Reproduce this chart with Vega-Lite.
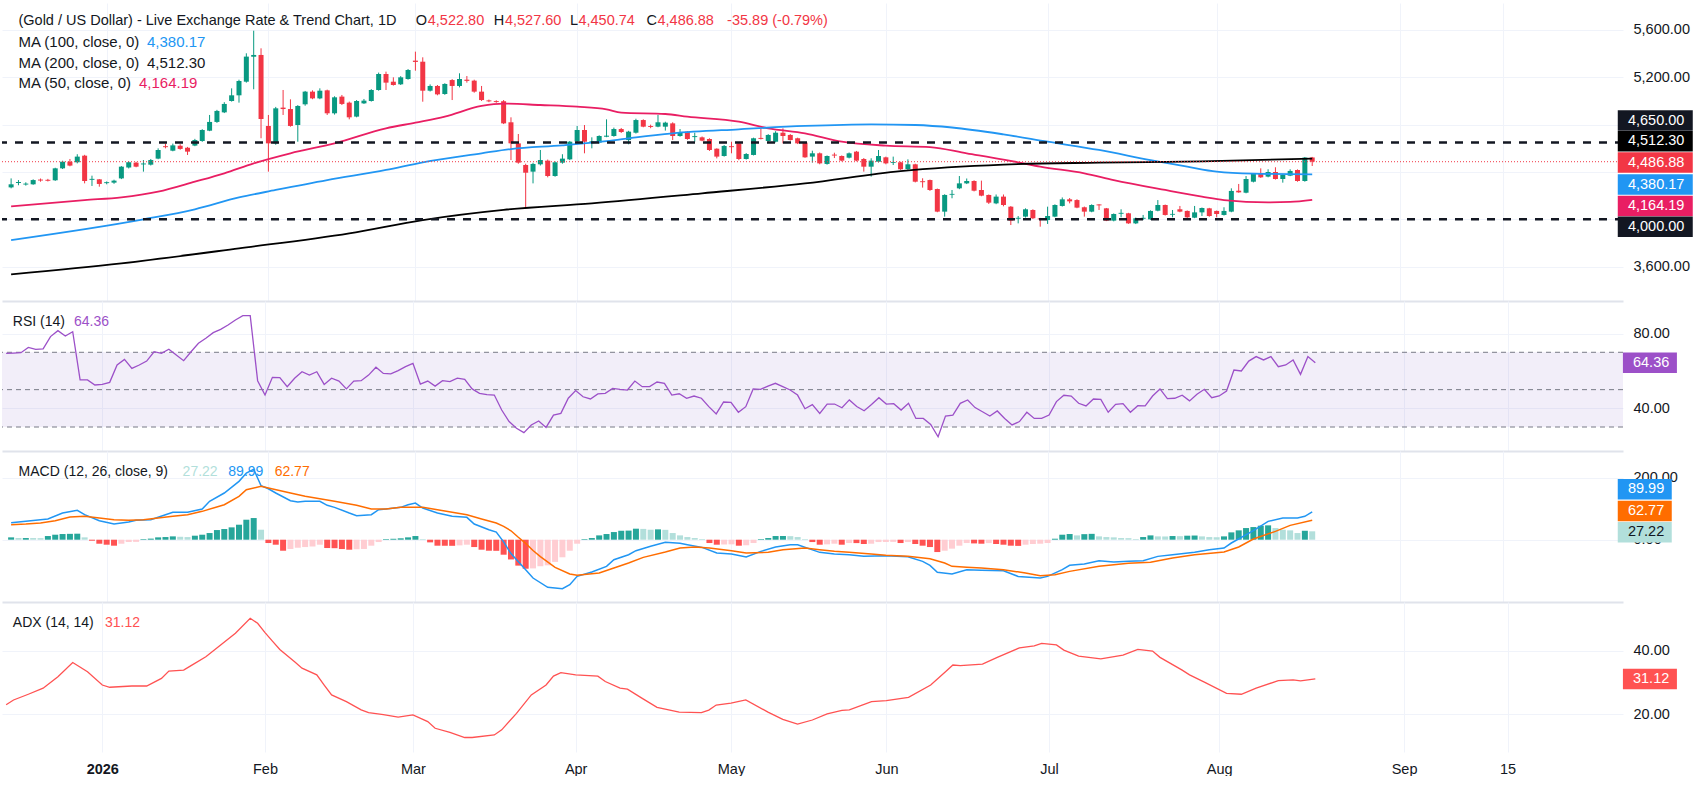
{
  "$schema": "https://vega.github.io/schema/vega-lite/v6.json",
  "padding": {"top": 3, "left": 0, "right": 0, "bottom": 0},
  "background": "white",
  "spacing": 0,
  "bounds": "flush",
  "config": {
    "font": "Liberation Sans",
    "view": {"stroke": null},
    "axis": {"gridColor": "#F0F3FA", "gridWidth": 1, "labelColor": "#131722", "labelFontSize": 14.5, "ticks": false, "domain": false},
    "text": {"fontSize": 14.5, "align": "left", "baseline": "middle", "color": "#131722"}
  },
  "datasets": {
    "info": [{"title": "(Gold / US Dollar) - Live Exchange Rate & Trend Chart, 1D", "o": "4,522.80", "h": "4,527.60", "l": "4,450.74", "c": "4,486.88", "chg": "-35.89 (-0.79%)", "ma100": "4,380.17", "ma200": "4,512.30", "ma50": "4,164.19", "rsi": "64.36", "hist": "27.22", "macd": "89.99", "signal": "62.77", "adx": "31.12"}],
    "candles": [
      {"i":-13,"o":4270,"h":4346,"l":4262,"c":4296},{"i":-12,"o":4307,"h":4332,"l":4288,"c":4315},{"i":-11,"o":4294,"h":4313,"l":4285,"c":4302},{"i":-10,"o":4296,"h":4338,"l":4292,"c":4332},
      {"i":-9,"o":4336,"h":4345,"l":4318,"c":4328},{"i":-8,"o":4334,"h":4342,"l":4320,"c":4326},{"i":-7,"o":4330,"h":4436,"l":4325,"c":4431},{"i":-6,"o":4431,"h":4495,"l":4425,"c":4487},
      {"i":-5,"o":4487,"h":4510,"l":4448,"c":4454},{"i":-4,"o":4482,"h":4550,"l":4473,"c":4530},{"i":-3,"o":4538,"h":4545,"l":4304,"c":4324},{"i":-2,"o":4334,"h":4369,"l":4282,"c":4342},
      {"i":-1,"o":4338,"h":4340,"l":4276,"c":4299},{"i":0,"o":4306,"h":4320,"l":4296,"c":4314},{"i":1,"o":4310,"h":4335,"l":4300,"c":4327},{"i":2,"o":4346,"h":4450,"l":4340,"c":4445},
      {"i":3,"o":4437,"h":4490,"l":4430,"c":4482},{"i":4,"o":4479,"h":4486,"l":4440,"c":4445},{"i":5,"o":4464,"h":4501,"l":4403,"c":4472},{"i":6,"o":4462,"h":4510,"l":4455,"c":4501},
      {"i":7,"o":4513,"h":4600,"l":4508,"c":4586},{"i":8,"o":4618,"h":4640,"l":4600,"c":4610},{"i":9,"o":4580,"h":4640,"l":4575,"c":4625},{"i":10,"o":4622,"h":4635,"l":4588,"c":4595},
      {"i":11,"o":4605,"h":4612,"l":4544,"c":4572},{"i":12,"o":4623,"h":4680,"l":4618,"c":4670},{"i":13,"o":4662,"h":4762,"l":4655,"c":4755},{"i":14,"o":4749,"h":4882,"l":4745,"c":4823},
      {"i":15,"o":4823,"h":4925,"l":4815,"c":4916},{"i":16,"o":4904,"h":4990,"l":4898,"c":4975},{"i":17,"o":5000,"h":5107,"l":4995,"c":5048},{"i":18,"o":5048,"h":5180,"l":4986,"c":5169},
      {"i":19,"o":5163,"h":5403,"l":5155,"c":5375},{"i":20,"o":5374,"h":5594,"l":5099,"c":5389},{"i":21,"o":5389,"h":5445,"l":4685,"c":4848},{"i":22,"o":4789,"h":4882,"l":4403,"c":4642},
      {"i":23,"o":4642,"h":4950,"l":4630,"c":4938},{"i":24,"o":4944,"h":5093,"l":4882,"c":4932},{"i":25,"o":4932,"h":5014,"l":4783,"c":4789},{"i":26,"o":4797,"h":4965,"l":4656,"c":4958},
      {"i":27,"o":4972,"h":5085,"l":4960,"c":5079},{"i":28,"o":5079,"h":5090,"l":5015,"c":5022},{"i":29,"o":5022,"h":5107,"l":5015,"c":5087},{"i":30,"o":5090,"h":5096,"l":4882,"c":4896},
      {"i":31,"o":4896,"h":5040,"l":4885,"c":5031},{"i":32,"o":5037,"h":5051,"l":4966,"c":4975},{"i":33,"o":4986,"h":4995,"l":4845,"c":4862},{"i":34,"o":4868,"h":5008,"l":4862,"c":5000},
      {"i":35,"o":4980,"h":5017,"l":4975,"c":5003},{"i":36,"o":5000,"h":5100,"l":4995,"c":5093},{"i":37,"o":5093,"h":5240,"l":5087,"c":5228},{"i":38,"o":5228,"h":5248,"l":5093,"c":5155},
      {"i":39,"o":5163,"h":5200,"l":5130,"c":5135},{"i":40,"o":5141,"h":5210,"l":5135,"c":5200},{"i":41,"o":5186,"h":5270,"l":5180,"c":5262},{"i":42,"o":5341,"h":5417,"l":5256,"c":5330},
      {"i":43,"o":5332,"h":5369,"l":4994,"c":5087},{"i":44,"o":5087,"h":5140,"l":5080,"c":5127},{"i":45,"o":5127,"h":5135,"l":5048,"c":5056},{"i":46,"o":5059,"h":5150,"l":5052,"c":5144},
      {"i":47,"o":5177,"h":5185,"l":5008,"c":5127},{"i":48,"o":5127,"h":5234,"l":5115,"c":5186},{"i":49,"o":5180,"h":5211,"l":5155,"c":5170},{"i":50,"o":5172,"h":5180,"l":5070,"c":5079},
      {"i":51,"o":5079,"h":5127,"l":5000,"c":5008},{"i":52,"o":5005,"h":5012,"l":4990,"c":4997},{"i":53,"o":4999,"h":5006,"l":4985,"c":4991},{"i":54,"o":4998,"h":5008,"l":4805,"c":4811},
      {"i":55,"o":4820,"h":4862,"l":4501,"c":4642},{"i":56,"o":4642,"h":4721,"l":4470,"c":4479},{"i":57,"o":4459,"h":4470,"l":4093,"c":4394},{"i":58,"o":4403,"h":4478,"l":4304,"c":4468},
      {"i":59,"o":4465,"h":4586,"l":4455,"c":4501},{"i":60,"o":4496,"h":4505,"l":4355,"c":4366},{"i":61,"o":4366,"h":4490,"l":4360,"c":4482},{"i":62,"o":4479,"h":4550,"l":4470,"c":4513},
      {"i":63,"o":4507,"h":4662,"l":4500,"c":4656},{"i":64,"o":4659,"h":4789,"l":4650,"c":4755},{"i":65,"o":4755,"h":4797,"l":4558,"c":4656},{"i":66,"o":4650,"h":4693,"l":4600,"c":4659},
      {"i":67,"o":4648,"h":4710,"l":4640,"c":4704},{"i":68,"o":4698,"h":4845,"l":4694,"c":4707},{"i":69,"o":4704,"h":4775,"l":4698,"c":4763},{"i":70,"o":4763,"h":4772,"l":4730,"c":4738},
      {"i":71,"o":4670,"h":4748,"l":4634,"c":4741},{"i":72,"o":4732,"h":4850,"l":4725,"c":4839},{"i":73,"o":4839,"h":4845,"l":4778,"c":4783},{"i":74,"o":4788,"h":4800,"l":4770,"c":4780},
      {"i":75,"o":4783,"h":4882,"l":4778,"c":4820},{"i":76,"o":4783,"h":4825,"l":4750,"c":4817},{"i":77,"o":4811,"h":4820,"l":4670,"c":4704},{"i":78,"o":4704,"h":4763,"l":4698,"c":4732},
      {"i":79,"o":4741,"h":4745,"l":4672,"c":4679},{"i":80,"o":4695,"h":4732,"l":4656,"c":4703},{"i":81,"o":4693,"h":4700,"l":4660,"c":4665},{"i":82,"o":4679,"h":4685,"l":4578,"c":4586},
      {"i":83,"o":4597,"h":4600,"l":4515,"c":4530},{"i":84,"o":4535,"h":4628,"l":4530,"c":4620},{"i":85,"o":4618,"h":4656,"l":4558,"c":4610},{"i":86,"o":4642,"h":4648,"l":4500,"c":4510},
      {"i":87,"o":4510,"h":4560,"l":4505,"c":4552},{"i":88,"o":4544,"h":4690,"l":4540,"c":4685},{"i":89,"o":4688,"h":4769,"l":4675,"c":4680},{"i":90,"o":4662,"h":4720,"l":4655,"c":4713},
      {"i":91,"o":4656,"h":4745,"l":4650,"c":4732},{"i":92,"o":4732,"h":4769,"l":4642,"c":4704},{"i":93,"o":4713,"h":4720,"l":4665,"c":4670},{"i":94,"o":4685,"h":4690,"l":4636,"c":4642},
      {"i":95,"o":4648,"h":4652,"l":4520,"c":4524},{"i":96,"o":4530,"h":4580,"l":4479,"c":4558},{"i":97,"o":4558,"h":4565,"l":4465,"c":4473},{"i":98,"o":4468,"h":4540,"l":4462,"c":4535},
      {"i":99,"o":4547,"h":4563,"l":4518,"c":4539},{"i":100,"o":4535,"h":4540,"l":4490,"c":4496},{"i":101,"o":4521,"h":4565,"l":4515,"c":4558},{"i":102,"o":4572,"h":4578,"l":4490,"c":4496},
      {"i":103,"o":4510,"h":4518,"l":4403,"c":4445},{"i":104,"o":4445,"h":4516,"l":4361,"c":4496},{"i":105,"o":4487,"h":4586,"l":4480,"c":4535},{"i":106,"o":4524,"h":4530,"l":4465,"c":4473},
      {"i":107,"o":4476,"h":4530,"l":4459,"c":4483},{"i":108,"o":4482,"h":4487,"l":4418,"c":4423},{"i":109,"o":4425,"h":4507,"l":4418,"c":4465},{"i":110,"o":4465,"h":4470,"l":4312,"c":4318},
      {"i":111,"o":4322,"h":4347,"l":4268,"c":4314},{"i":112,"o":4332,"h":4336,"l":4240,"c":4248},{"i":113,"o":4256,"h":4260,"l":4060,"c":4065},{"i":114,"o":4065,"h":4212,"l":4023,"c":4206},
      {"i":115,"o":4208,"h":4248,"l":4178,"c":4215},{"i":116,"o":4262,"h":4366,"l":4255,"c":4304},{"i":117,"o":4304,"h":4345,"l":4298,"c":4324},{"i":118,"o":4324,"h":4330,"l":4236,"c":4242},
      {"i":119,"o":4248,"h":4327,"l":4195,"c":4200},{"i":120,"o":4206,"h":4210,"l":4130,"c":4141},{"i":121,"o":4135,"h":4210,"l":4128,"c":4192},{"i":122,"o":4192,"h":4210,"l":4110,"c":4121},
      {"i":123,"o":4107,"h":4112,"l":3952,"c":3989},{"i":124,"o":4005,"h":4028,"l":3966,"c":4013},{"i":125,"o":4023,"h":4093,"l":4015,"c":4085},{"i":126,"o":4079,"h":4085,"l":4003,"c":4009},
      {"i":127,"o":4008,"h":4012,"l":3938,"c":4000},{"i":128,"o":3994,"h":4107,"l":3961,"c":4028},{"i":129,"o":4023,"h":4127,"l":4018,"c":4121},{"i":130,"o":4113,"h":4185,"l":4108,"c":4169},
      {"i":131,"o":4169,"h":4180,"l":4135,"c":4152},{"i":132,"o":4163,"h":4170,"l":4094,"c":4099},{"i":133,"o":4102,"h":4108,"l":4023,"c":4065},{"i":134,"o":4065,"h":4127,"l":4060,"c":4121},
      {"i":135,"o":4126,"h":4128,"l":4079,"c":4118},{"i":136,"o":4093,"h":4096,"l":3985,"c":3989},{"i":137,"o":3989,"h":4050,"l":3983,"c":4045},{"i":138,"o":4047,"h":4085,"l":4017,"c":4055},
      {"i":139,"o":4051,"h":4055,"l":3962,"c":3966},{"i":140,"o":3966,"h":4015,"l":3960,"c":4009},{"i":141,"o":4005,"h":4037,"l":3994,"c":4013},{"i":142,"o":4000,"h":4076,"l":3996,"c":4071},
      {"i":143,"o":4073,"h":4163,"l":4068,"c":4121},{"i":144,"o":4121,"h":4125,"l":4032,"c":4037},{"i":145,"o":4039,"h":4079,"l":4017,"c":4046},{"i":146,"o":4085,"h":4113,"l":4060,"c":4065},
      {"i":147,"o":4071,"h":4075,"l":4012,"c":4017},{"i":148,"o":4014,"h":4113,"l":4010,"c":4059},{"i":149,"o":4059,"h":4100,"l":4028,"c":4096},{"i":150,"o":4093,"h":4097,"l":4022,"c":4028},
      {"i":151,"o":4071,"h":4074,"l":4017,"c":4045},{"i":152,"o":4037,"h":4102,"l":4032,"c":4071},{"i":153,"o":4065,"h":4262,"l":4060,"c":4240},{"i":154,"o":4242,"h":4299,"l":4225,"c":4228},
      {"i":155,"o":4225,"h":4366,"l":4220,"c":4341},{"i":156,"o":4318,"h":4390,"l":4312,"c":4383},{"i":157,"o":4383,"h":4431,"l":4350,"c":4355},{"i":158,"o":4361,"h":4423,"l":4355,"c":4400},
      {"i":159,"o":4400,"h":4440,"l":4336,"c":4341},{"i":160,"o":4341,"h":4380,"l":4310,"c":4375},{"i":161,"o":4369,"h":4423,"l":4365,"c":4409},{"i":162,"o":4417,"h":4422,"l":4318,"c":4324},
      {"i":163,"o":4324,"h":4527,"l":4318,"c":4522},{"i":164,"o":4522.8,"h":4527.6,"l":4450.74,"c":4486.88}
    ],
    "ma": [
      {"ma":"MA50","i":-13,"v":4110},{"ma":"MA50","i":-3,"v":4163},{"ma":"MA50","i":2,"v":4186},{"ma":"MA50","i":7,"v":4234},{"ma":"MA50","i":12,"v":4318},{"ma":"MA50","i":16,"v":4389},{"ma":"MA50","i":20,"v":4473},{"ma":"MA50","i":25,"v":4558},{"ma":"MA50","i":31,"v":4642},{"ma":"MA50","i":38,"v":4769},{"ma":"MA50","i":42,"v":4817},{"ma":"MA50","i":46,"v":4868},{"ma":"MA50","i":51,"v":4958},{"ma":"MA50","i":54,"v":4978},{"ma":"MA50","i":59,"v":4966},{"ma":"MA50","i":64,"v":4952},{"ma":"MA50","i":68,"v":4930},{"ma":"MA50","i":70,"v":4901},{"ma":"MA50","i":76,"v":4890},{"ma":"MA50","i":79,"v":4868},{"ma":"MA50","i":86,"v":4825},{"ma":"MA50","i":90,"v":4769},{"ma":"MA50","i":95,"v":4727},{"ma":"MA50","i":100,"v":4656},{"ma":"MA50","i":106,"v":4623},{"ma":"MA50","i":112,"v":4611},{"ma":"MA50","i":117,"v":4558},{"ma":"MA50","i":122,"v":4505},{"ma":"MA50","i":124,"v":4482},{"ma":"MA50","i":127,"v":4445},{"ma":"MA50","i":133,"v":4389},{"ma":"MA50","i":137,"v":4332},{"ma":"MA50","i":144,"v":4248},{"ma":"MA50","i":149,"v":4192},{"ma":"MA50","i":152,"v":4163},{"ma":"MA50","i":158,"v":4144},{"ma":"MA50","i":161,"v":4147},{"ma":"MA50","i":164,"v":4164.19},
      {"ma":"MA100","i":-13,"v":3825},{"ma":"MA100","i":5,"v":4000},{"ma":"MA100","i":12,"v":4085},{"ma":"MA100","i":18,"v":4185},{"ma":"MA100","i":23,"v":4248},{"ma":"MA100","i":30,"v":4332},{"ma":"MA100","i":38,"v":4417},{"ma":"MA100","i":43,"v":4482},{"ma":"MA100","i":51,"v":4558},{"ma":"MA100","i":55,"v":4594},{"ma":"MA100","i":62,"v":4625},{"ma":"MA100","i":68,"v":4660},{"ma":"MA100","i":72,"v":4693},{"ma":"MA100","i":77,"v":4727},{"ma":"MA100","i":86,"v":4761},{"ma":"MA100","i":95,"v":4789},{"ma":"MA100","i":104,"v":4803},{"ma":"MA100","i":110,"v":4797},{"ma":"MA100","i":115,"v":4776},{"ma":"MA100","i":122,"v":4718},{"ma":"MA100","i":128,"v":4656},{"ma":"MA100","i":135,"v":4586},{"ma":"MA100","i":142,"v":4501},{"ma":"MA100","i":147,"v":4445},{"ma":"MA100","i":151,"v":4403},{"ma":"MA100","i":156,"v":4386},{"ma":"MA100","i":164,"v":4380.17},
      {"ma":"MA200","i":-13,"v":3535},{"ma":"MA200","i":2,"v":3628},{"ma":"MA200","i":18,"v":3755},{"ma":"MA200","i":33,"v":3882},{"ma":"MA200","i":43,"v":3994},{"ma":"MA200","i":54,"v":4080},{"ma":"MA200","i":66,"v":4135},{"ma":"MA200","i":81,"v":4220},{"ma":"MA200","i":95,"v":4304},{"ma":"MA200","i":108,"v":4408},{"ma":"MA200","i":122,"v":4463},{"ma":"MA200","i":135,"v":4479},{"ma":"MA200","i":149,"v":4490},{"ma":"MA200","i":164,"v":4512.3}
    ],
    "rsi": [
      {"i":-13,"v":69.4},{"i":-12,"v":69.6},{"i":-11,"v":69.8},{"i":-10,"v":72.6},{"i":-9,"v":71.6},{"i":-8,"v":71.8},{"i":-7,"v":78.4},{"i":-6,"v":81.6},{"i":-5,"v":78.7},{"i":-4,"v":81.0},
      {"i":-3,"v":55.2},{"i":-2,"v":55.2},{"i":-1,"v":52.5},{"i":0,"v":52.8},{"i":1,"v":53.9},{"i":2,"v":63.2},{"i":3,"v":66.2},{"i":4,"v":61.4},{"i":5,"v":63.2},{"i":6,"v":65.3},
      {"i":7,"v":70.3},{"i":8,"v":69.4},{"i":9,"v":71.6},{"i":10,"v":68.5},{"i":11,"v":65.5},{"i":12,"v":70.3},{"i":13,"v":74.8},{"i":14,"v":77.5},{"i":15,"v":80.5},{"i":16,"v":82.3},
      {"i":17,"v":84.6},{"i":18,"v":87.3},{"i":19,"v":89.6},{"i":20,"v":89.6},{"i":21,"v":54.8},{"i":22,"v":47.1},{"i":23,"v":56.6},{"i":24,"v":56.4},{"i":25,"v":51.6},{"i":26,"v":56.1},
      {"i":27,"v":59.6},{"i":28,"v":57.8},{"i":29,"v":59.6},{"i":30,"v":52.8},{"i":31,"v":56.1},{"i":32,"v":54.6},{"i":33,"v":50.4},{"i":34,"v":54.6},{"i":35,"v":54.8},{"i":36,"v":57.8},
      {"i":37,"v":62.0},{"i":38,"v":58.7},{"i":39,"v":58.4},{"i":40,"v":60.2},{"i":41,"v":62.3},{"i":42,"v":64.1},{"i":43,"v":53.0},{"i":44,"v":54.6},{"i":45,"v":51.9},{"i":46,"v":54.8},
      {"i":47,"v":54.3},{"i":48,"v":56.2},{"i":49,"v":55.5},{"i":50,"v":50.4},{"i":51,"v":48.0},{"i":52,"v":47.3},{"i":53,"v":47.1},{"i":54,"v":39.1},{"i":55,"v":32.9},{"i":56,"v":29.3},
      {"i":57,"v":27.0},{"i":58,"v":31.1},{"i":59,"v":33.2},{"i":60,"v":29.8},{"i":61,"v":36.4},{"i":62,"v":37.3},{"i":63,"v":45.4},{"i":64,"v":49.5},{"i":65,"v":46.2},{"i":66,"v":45.0},
      {"i":67,"v":47.7},{"i":68,"v":48.0},{"i":69,"v":50.7},{"i":70,"v":50.2},{"i":71,"v":49.8},{"i":72,"v":54.6},{"i":73,"v":51.6},{"i":74,"v":51.6},{"i":75,"v":54.1},{"i":76,"v":53.4},
      {"i":77,"v":47.1},{"i":78,"v":47.8},{"i":79,"v":45.4},{"i":80,"v":46.6},{"i":81,"v":45.4},{"i":82,"v":40.9},{"i":83,"v":37.0},{"i":84,"v":43.4},{"i":85,"v":43.2},{"i":86,"v":37.9},
      {"i":87,"v":40.9},{"i":88,"v":50.4},{"i":89,"v":50.2},{"i":90,"v":51.9},{"i":91,"v":53.4},{"i":92,"v":51.6},{"i":93,"v":49.8},{"i":94,"v":47.1},{"i":95,"v":39.8},{"i":96,"v":42.0},
      {"i":97,"v":37.3},{"i":98,"v":42.3},{"i":99,"v":42.3},{"i":100,"v":40.3},{"i":101,"v":44.5},{"i":102,"v":41.0},{"i":103,"v":38.7},{"i":104,"v":42.0},{"i":105,"v":45.7},{"i":106,"v":42.3},
      {"i":107,"v":42.5},{"i":108,"v":39.1},{"i":109,"v":42.7},{"i":110,"v":34.6},{"i":111,"v":34.6},{"i":112,"v":31.4},{"i":113,"v":24.8},{"i":114,"v":35.9},{"i":115,"v":36.4},{"i":116,"v":42.7},
      {"i":117,"v":44.5},{"i":118,"v":40.4},{"i":119,"v":38.2},{"i":120,"v":35.9},{"i":121,"v":38.6},{"i":122,"v":34.6},{"i":123,"v":31.1},{"i":124,"v":32.9},{"i":125,"v":37.9},{"i":126,"v":34.6},
      {"i":127,"v":34.6},{"i":128,"v":36.4},{"i":129,"v":43.6},{"i":130,"v":47.0},{"i":131,"v":46.6},{"i":132,"v":42.7},{"i":133,"v":41.3},{"i":134,"v":45.0},{"i":135,"v":44.8},{"i":136,"v":37.9},
      {"i":137,"v":42.1},{"i":138,"v":42.5},{"i":139,"v":37.9},{"i":140,"v":41.4},{"i":141,"v":41.3},{"i":142,"v":46.6},{"i":143,"v":50.4},{"i":144,"v":45.2},{"i":145,"v":45.4},{"i":146,"v":47.0},
      {"i":147,"v":44.0},{"i":148,"v":47.5},{"i":149,"v":50.2},{"i":150,"v":45.7},{"i":151,"v":46.6},{"i":152,"v":49.3},{"i":153,"v":60.5},{"i":154,"v":60.0},{"i":155,"v":65.3},{"i":156,"v":67.7},
      {"i":157,"v":65.9},{"i":158,"v":67.7},{"i":159,"v":62.3},{"i":160,"v":63.2},{"i":161,"v":65.9},{"i":162,"v":58.2},{"i":163,"v":67.7},{"i":164,"v":64.36}
    ],
    "hist": [
      {"i":-13,"h":7.6,"s":"pu"},{"i":-12,"h":5.4,"s":"pd"},{"i":-11,"h":5.4,"s":"pu"},{"i":-10,"h":5.4,"s":"pd"},{"i":-9,"h":5.0,"s":"pd"},{"i":-8,"h":11.9,"s":"pu"},{"i":-7,"h":16.2,"s":"pu"},{"i":-6,"h":18.4,"s":"pu"},{"i":-5,"h":19.0,"s":"pu"},{"i":-4,"h":19.5,"s":"pu"},
      {"i":-3,"h":7.6,"s":"pd"},{"i":-2,"h":-3.2,"s":"nd"},{"i":-1,"h":-13,"s":"nd"},{"i":0,"h":-16.2,"s":"nd"},{"i":1,"h":-19.4,"s":"nd"},{"i":2,"h":-13,"s":"nu"},{"i":3,"h":-7.6,"s":"nu"},{"i":4,"h":-7,"s":"nu"},{"i":5,"h":2,"s":"pu"},{"i":6,"h":3.5,"s":"pu"},
      {"i":7,"h":7.6,"s":"pu"},{"i":8,"h":8.6,"s":"pu"},{"i":9,"h":10.8,"s":"pu"},{"i":10,"h":9.5,"s":"pd"},{"i":11,"h":8.5,"s":"pd"},{"i":12,"h":13,"s":"pu"},{"i":13,"h":16.2,"s":"pu"},{"i":14,"h":21.6,"s":"pu"},{"i":15,"h":31.3,"s":"pu"},{"i":16,"h":34.6,"s":"pu"},
      {"i":17,"h":40,"s":"pu"},{"i":18,"h":48.6,"s":"pu"},{"i":19,"h":64.8,"s":"pu"},{"i":20,"h":70.2,"s":"pu"},{"i":21,"h":32.4,"s":"pd"},{"i":22,"h":-10.8,"s":"nd"},{"i":23,"h":-16.2,"s":"nd"},{"i":24,"h":-35.7,"s":"nd"},{"i":25,"h":-30,"s":"nu"},{"i":26,"h":-26,"s":"nu"},
      {"i":27,"h":-23.8,"s":"nu"},{"i":28,"h":-22,"s":"nu"},{"i":29,"h":-16.2,"s":"nu"},{"i":30,"h":-27,"s":"nd"},{"i":31,"h":-27.5,"s":"nd"},{"i":32,"h":-30.3,"s":"nd"},{"i":33,"h":-32.4,"s":"nd"},{"i":34,"h":-31,"s":"nu"},{"i":35,"h":-30,"s":"nu"},{"i":36,"h":-19.4,"s":"nu"},
      {"i":37,"h":-7.6,"s":"nu"},{"i":38,"h":2,"s":"pu"},{"i":39,"h":3,"s":"pu"},{"i":40,"h":4.5,"s":"pu"},{"i":41,"h":7.6,"s":"pu"},{"i":42,"h":11.9,"s":"pu"},{"i":43,"h":2,"s":"pd"},{"i":44,"h":-8.6,"s":"nd"},{"i":45,"h":-19.4,"s":"nd"},{"i":46,"h":-19.6,"s":"nd"},
      {"i":47,"h":-19.8,"s":"nd"},{"i":48,"h":-18.4,"s":"nu"},{"i":49,"h":-16.2,"s":"nu"},{"i":50,"h":-23.8,"s":"nd"},{"i":51,"h":-32.4,"s":"nd"},{"i":52,"h":-35.7,"s":"nd"},{"i":53,"h":-36,"s":"nd"},{"i":54,"h":-48.6,"s":"nd"},{"i":55,"h":-64,"s":"nd"},{"i":56,"h":-84,"s":"nd"},
      {"i":57,"h":-94,"s":"nd"},{"i":58,"h":-93,"s":"nu"},{"i":59,"h":-86,"s":"nu"},{"i":60,"h":-83,"s":"nu"},{"i":61,"h":-72,"s":"nu"},{"i":62,"h":-57,"s":"nu"},{"i":63,"h":-35.7,"s":"nu"},{"i":64,"h":-13,"s":"nu"},{"i":65,"h":2,"s":"pu"},{"i":66,"h":5.4,"s":"pu"},
      {"i":67,"h":14,"s":"pu"},{"i":68,"h":18.4,"s":"pu"},{"i":69,"h":24.8,"s":"pu"},{"i":70,"h":29,"s":"pu"},{"i":71,"h":29.5,"s":"pu"},{"i":72,"h":35.7,"s":"pu"},{"i":73,"h":35,"s":"pd"},{"i":74,"h":32.4,"s":"pd"},{"i":75,"h":33.5,"s":"pu"},{"i":76,"h":32,"s":"pd"},
      {"i":77,"h":21.6,"s":"pd"},{"i":78,"h":14,"s":"pd"},{"i":79,"h":8.6,"s":"pd"},{"i":80,"h":5.4,"s":"pd"},{"i":81,"h":2.2,"s":"pd"},{"i":82,"h":-10.8,"s":"nd"},{"i":83,"h":-16.2,"s":"nd"},{"i":84,"h":-15.5,"s":"nu"},{"i":85,"h":-15,"s":"nu"},{"i":86,"h":-19.4,"s":"nd"},
      {"i":87,"h":-18,"s":"nu"},{"i":88,"h":-10.8,"s":"nu"},{"i":89,"h":2,"s":"pu"},{"i":90,"h":5.4,"s":"pu"},{"i":91,"h":11.9,"s":"pu"},{"i":92,"h":12,"s":"pu"},{"i":93,"h":11.5,"s":"pd"},{"i":94,"h":8.6,"s":"pd"},{"i":95,"h":2,"s":"pd"},{"i":96,"h":-7.6,"s":"nd"},
      {"i":97,"h":-16.2,"s":"nd"},{"i":98,"h":-15,"s":"nu"},{"i":99,"h":-13,"s":"nu"},{"i":100,"h":-16.2,"s":"nd"},{"i":101,"h":-10.8,"s":"nu"},{"i":102,"h":-11,"s":"nd"},{"i":103,"h":-14,"s":"nd"},{"i":104,"h":-13,"s":"nu"},{"i":105,"h":-7.6,"s":"nu"},{"i":106,"h":-7.5,"s":"nu"},
      {"i":107,"h":-7,"s":"nu"},{"i":108,"h":-10.8,"s":"nd"},{"i":109,"h":-7.6,"s":"nu"},{"i":110,"h":-14,"s":"nd"},{"i":111,"h":-19.4,"s":"nd"},{"i":112,"h":-23.8,"s":"nd"},{"i":113,"h":-40,"s":"nd"},{"i":114,"h":-35.7,"s":"nu"},{"i":115,"h":-29,"s":"nu"},{"i":116,"h":-19.4,"s":"nu"},
      {"i":117,"h":-10.8,"s":"nu"},{"i":118,"h":-12,"s":"nd"},{"i":119,"h":-13,"s":"nd"},{"i":120,"h":-11,"s":"nu"},{"i":121,"h":-14,"s":"nd"},{"i":122,"h":-16.2,"s":"nd"},{"i":123,"h":-19.4,"s":"nd"},{"i":124,"h":-20,"s":"nd"},{"i":125,"h":-16.2,"s":"nu"},{"i":126,"h":-14,"s":"nu"},
      {"i":127,"h":-13,"s":"nu"},{"i":128,"h":-10.8,"s":"nu"},{"i":129,"h":3.2,"s":"pu"},{"i":130,"h":16.2,"s":"pu"},{"i":131,"h":18.4,"s":"pu"},{"i":132,"h":14,"s":"pd"},{"i":133,"h":18,"s":"pu"},{"i":134,"h":19,"s":"pu"},{"i":135,"h":10.8,"s":"pd"},{"i":136,"h":8.6,"s":"pd"},
      {"i":137,"h":7.6,"s":"pd"},{"i":138,"h":5.4,"s":"pd"},{"i":139,"h":5.0,"s":"pd"},{"i":140,"h":2.2,"s":"pd"},{"i":141,"h":8.6,"s":"pu"},{"i":142,"h":14,"s":"pu"},{"i":143,"h":10.8,"s":"pd"},{"i":144,"h":10.5,"s":"pd"},{"i":145,"h":11.9,"s":"pu"},{"i":146,"h":11.5,"s":"pd"},
      {"i":147,"h":13,"s":"pu"},{"i":148,"h":13.5,"s":"pu"},{"i":149,"h":10.8,"s":"pd"},{"i":150,"h":8.6,"s":"pd"},{"i":151,"h":8.0,"s":"pd"},{"i":152,"h":10.8,"s":"pu"},{"i":153,"h":23.8,"s":"pu"},{"i":154,"h":30.3,"s":"pu"},{"i":155,"h":37.8,"s":"pu"},{"i":156,"h":41,"s":"pu"},
      {"i":157,"h":45.4,"s":"pu"},{"i":158,"h":46.5,"s":"pu"},{"i":159,"h":37.8,"s":"pd"},{"i":160,"h":32.4,"s":"pd"},{"i":161,"h":30.3,"s":"pd"},{"i":162,"h":21.6,"s":"pd"},{"i":163,"h":29,"s":"pu"},{"i":164,"h":27.22,"s":"pd"}
    ],
    "macdlines": [
      {"s":"macd","i":-13,"v":55},{"s":"macd","i":-11,"v":59.5},{"s":"macd","i":-9,"v":64.9},{"s":"macd","i":-8,"v":67.1},{"s":"macd","i":-6,"v":86.5},{"s":"macd","i":-4,"v":95.2},{"s":"macd","i":-3,"v":81.1},{"s":"macd","i":-1,"v":61.7},{"s":"macd","i":1,"v":50.8},{"s":"macd","i":3,"v":57.3},{"s":"macd","i":4,"v":62.7},{"s":"macd","i":6,"v":64.9},{"s":"macd","i":8,"v":81.1},{"s":"macd","i":9,"v":88.7},{"s":"macd","i":11,"v":88.7},{"s":"macd","i":13,"v":99.5},{"s":"macd","i":14,"v":124.3},{"s":"macd","i":16,"v":151.3},{"s":"macd","i":18,"v":189.1},{"s":"macd","i":19,"v":216.2},{"s":"macd","i":20,"v":228},{"s":"macd","i":21,"v":175},{"s":"macd","i":22,"v":165},{"s":"macd","i":23,"v":151.3},{"s":"macd","i":25,"v":126.5},{"s":"macd","i":26,"v":122.2},{"s":"macd","i":27,"v":124.3},{"s":"macd","i":29,"v":124.3},{"s":"macd","i":30,"v":111.4},{"s":"macd","i":31,"v":104.9},{"s":"macd","i":33,"v":86.5},{"s":"macd","i":34,"v":77.9},{"s":"macd","i":36,"v":81.1},{"s":"macd","i":37,"v":97.3},{"s":"macd","i":38,"v":99.5},{"s":"macd","i":40,"v":104.9},{"s":"macd","i":41,"v":113.5},{"s":"macd","i":42,"v":118.9},{"s":"macd","i":43,"v":102.7},{"s":"macd","i":45,"v":86.5},{"s":"macd","i":47,"v":75.7},{"s":"macd","i":49,"v":72.5},{"s":"macd","i":50,"v":50.8},{"s":"macd","i":52,"v":32.5},{"s":"macd","i":53,"v":24.9},{"s":"macd","i":54,"v":-7},{"s":"macd","i":55,"v":-45},{"s":"macd","i":57,"v":-97.2},{"s":"macd","i":58,"v":-124.2},{"s":"macd","i":60,"v":-154.4},{"s":"macd","i":62,"v":-158.8},{"s":"macd","i":63,"v":-145.8},{"s":"macd","i":64,"v":-118.8},{"s":"macd","i":66,"v":-104.7},{"s":"macd","i":68,"v":-86.4},{"s":"macd","i":69,"v":-64.8},{"s":"macd","i":71,"v":-48.6},{"s":"macd","i":72,"v":-35.6},{"s":"macd","i":74,"v":-21.5},{"s":"macd","i":76,"v":-8.6},{"s":"macd","i":78,"v":-11.8},{"s":"macd","i":79,"v":-16.1},{"s":"macd","i":81,"v":-24.8},{"s":"macd","i":83,"v":-43.2},{"s":"macd","i":85,"v":-46.4},{"s":"macd","i":87,"v":-56.1},{"s":"macd","i":89,"v":-37.8},{"s":"macd","i":91,"v":-23.7},{"s":"macd","i":93,"v":-16.1},{"s":"macd","i":94,"v":-16.1},{"s":"macd","i":97,"v":-41},{"s":"macd","i":99,"v":-46.4},{"s":"macd","i":101,"v":-48.6},{"s":"macd","i":103,"v":-54},{"s":"macd","i":106,"v":-51.8},{"s":"macd","i":109,"v":-55},{"s":"macd","i":111,"v":-70.2},{"s":"macd","i":112,"v":-83.1},{"s":"macd","i":113,"v":-105.8},{"s":"macd","i":115,"v":-111.2},{"s":"macd","i":117,"v":-97.2},{"s":"macd","i":119,"v":-99.3},{"s":"macd","i":122,"v":-101},{"s":"macd","i":124,"v":-119},{"s":"macd","i":125,"v":-121},{"s":"macd","i":127,"v":-124.2},{"s":"macd","i":128,"v":-118.8},{"s":"macd","i":130,"v":-97.2},{"s":"macd","i":131,"v":-83.1},{"s":"macd","i":133,"v":-78.8},{"s":"macd","i":135,"v":-68},{"s":"macd","i":137,"v":-72.3},{"s":"macd","i":139,"v":-70.2},{"s":"macd","i":141,"v":-68},{"s":"macd","i":143,"v":-54},{"s":"macd","i":145,"v":-48.6},{"s":"macd","i":148,"v":-41},{"s":"macd","i":150,"v":-32.4},{"s":"macd","i":152,"v":-27},{"s":"macd","i":153,"v":-10.7},{"s":"macd","i":156,"v":29.2},{"s":"macd","i":158,"v":59.5},{"s":"macd","i":160,"v":70.3},{"s":"macd","i":162,"v":70.3},{"s":"macd","i":163,"v":75.7},{"s":"macd","i":164,"v":89.99},
      {"s":"signal","i":-13,"v":48.7},{"s":"signal","i":-11,"v":50.8},{"s":"signal","i":-9,"v":54.1},{"s":"signal","i":-7,"v":61.7},{"s":"signal","i":-5,"v":73.5},{"s":"signal","i":-3,"v":75.7},{"s":"signal","i":-1,"v":70.3},{"s":"signal","i":1,"v":64.9},{"s":"signal","i":3,"v":62.7},{"s":"signal","i":5,"v":64.9},{"s":"signal","i":7,"v":70.3},{"s":"signal","i":9,"v":75.7},{"s":"signal","i":11,"v":81.1},{"s":"signal","i":13,"v":91.9},{"s":"signal","i":16,"v":113.5},{"s":"signal","i":18,"v":140.5},{"s":"signal","i":19,"v":162.1},{"s":"signal","i":21,"v":172.9},{"s":"signal","i":22,"v":167.5},{"s":"signal","i":25,"v":151.3},{"s":"signal","i":27,"v":140.5},{"s":"signal","i":29,"v":132.9},{"s":"signal","i":31,"v":124.3},{"s":"signal","i":34,"v":111.4},{"s":"signal","i":36,"v":99.5},{"s":"signal","i":38,"v":99.5},{"s":"signal","i":40,"v":104.9},{"s":"signal","i":43,"v":104.9},{"s":"signal","i":45,"v":97.3},{"s":"signal","i":47,"v":88.7},{"s":"signal","i":49,"v":81.1},{"s":"signal","i":51,"v":67.1},{"s":"signal","i":53,"v":54.1},{"s":"signal","i":54,"v":43},{"s":"signal","i":55,"v":29},{"s":"signal","i":56,"v":8},{"s":"signal","i":57,"v":-12},{"s":"signal","i":58,"v":-35},{"s":"signal","i":59,"v":-55},{"s":"signal","i":61,"v":-89.6},{"s":"signal","i":63,"v":-111.2},{"s":"signal","i":64,"v":-115.5},{"s":"signal","i":67,"v":-108},{"s":"signal","i":69,"v":-91.8},{"s":"signal","i":71,"v":-75.6},{"s":"signal","i":73,"v":-57.2},{"s":"signal","i":76,"v":-39.9},{"s":"signal","i":78,"v":-27},{"s":"signal","i":80,"v":-23.7},{"s":"signal","i":82,"v":-27},{"s":"signal","i":85,"v":-35.6},{"s":"signal","i":87,"v":-43.2},{"s":"signal","i":90,"v":-41},{"s":"signal","i":92,"v":-32.4},{"s":"signal","i":95,"v":-27},{"s":"signal","i":97,"v":-32.4},{"s":"signal","i":99,"v":-37.8},{"s":"signal","i":101,"v":-41},{"s":"signal","i":104,"v":-46.4},{"s":"signal","i":106,"v":-50.7},{"s":"signal","i":109,"v":-54},{"s":"signal","i":112,"v":-61.5},{"s":"signal","i":114,"v":-75.6},{"s":"signal","i":115,"v":-86.4},{"s":"signal","i":117,"v":-89.6},{"s":"signal","i":119,"v":-91.8},{"s":"signal","i":122,"v":-97.2},{"s":"signal","i":125,"v":-108},{"s":"signal","i":127,"v":-116.6},{"s":"signal","i":129,"v":-113.4},{"s":"signal","i":131,"v":-102.6},{"s":"signal","i":135,"v":-86.4},{"s":"signal","i":139,"v":-76.7},{"s":"signal","i":142,"v":-73.4},{"s":"signal","i":145,"v":-59.4},{"s":"signal","i":148,"v":-48.6},{"s":"signal","i":152,"v":-39.9},{"s":"signal","i":154,"v":-23.7},{"s":"signal","i":156,"v":2.2},{"s":"signal","i":159,"v":27},{"s":"signal","i":161,"v":46.5},{"s":"signal","i":164,"v":62.77}
    ],
    "adx": [
      {"i":-13,"v":23.0},{"i":-12,"v":24.5},{"i":-10,"v":26.3},{"i":-8,"v":28.2},{"i":-6,"v":31.8},{"i":-4,"v":36.3},{"i":-2,"v":33.4},{"i":0,"v":29.2},{"i":1,"v":28.5},{"i":4,"v":28.9},{"i":6,"v":28.9},{"i":8,"v":31.3},{"i":9,"v":33.6},{"i":11,"v":33.9},{"i":12,"v":35.3},{"i":14,"v":38.1},{"i":16,"v":41.8},{"i":18,"v":45.5},{"i":20,"v":50.2},{"i":21,"v":48.6},{"i":22,"v":45.7},{"i":23,"v":43.0},{"i":24,"v":40.4},{"i":26,"v":36.5},{"i":27,"v":34.5},{"i":29,"v":32.4},{"i":30,"v":29.2},{"i":31,"v":26.1},{"i":33,"v":24.0},{"i":35,"v":21.4},{"i":36,"v":20.5},{"i":38,"v":19.9},{"i":40,"v":19.1},{"i":42,"v":19.8},{"i":44,"v":17.7},{"i":45,"v":15.6},{"i":47,"v":14.3},{"i":49,"v":12.7},{"i":50,"v":12.7},{"i":53,"v":13.5},{"i":54,"v":15.1},{"i":56,"v":20.3},{"i":58,"v":26.1},{"i":60,"v":29.2},{"i":61,"v":32.0},{"i":62,"v":33.1},{"i":64,"v":32.4},{"i":67,"v":32.0},{"i":68,"v":30.3},{"i":70,"v":28.2},{"i":71,"v":27.9},{"i":73,"v":25.0},{"i":75,"v":22.2},{"i":78,"v":20.7},{"i":81,"v":20.5},{"i":82,"v":21.3},{"i":83,"v":22.9},{"i":85,"v":23.5},{"i":87,"v":24.5},{"i":90,"v":20.7},{"i":92,"v":18.4},{"i":94,"v":16.9},{"i":96,"v":18.2},{"i":98,"v":20.1},{"i":100,"v":21.2},{"i":101,"v":21.4},{"i":104,"v":24.0},{"i":106,"v":24.3},{"i":109,"v":25.3},{"i":112,"v":29.2},{"i":114,"v":33.4},{"i":115,"v":35.5},{"i":116,"v":35.3},{"i":119,"v":35.8},{"i":121,"v":37.9},{"i":124,"v":40.9},{"i":126,"v":41.5},{"i":127,"v":42.3},{"i":129,"v":41.8},{"i":130,"v":40.2},{"i":132,"v":38.3},{"i":135,"v":37.4},{"i":138,"v":38.6},{"i":140,"v":40.4},{"i":142,"v":39.9},{"i":143,"v":37.9},{"i":146,"v":33.9},{"i":147,"v":32.4},{"i":149,"v":30.1},{"i":152,"v":26.6},{"i":154,"v":26.3},{"i":156,"v":28.2},{"i":159,"v":30.6},{"i":161,"v":30.8},{"i":162,"v":30.5},{"i":164,"v":31.12}
    ],
    "pricelevels": [
      {"k":"lvl4650","v":4650,"t":"4,650.00"},{"k":"ma200","v":4512.3,"t":"4,512.30"},{"k":"close","v":4486.88,"t":"4,486.88"},{"k":"ma100","v":4380.17,"t":"4,380.17"},{"k":"ma50","v":4164.19,"t":"4,164.19"},{"k":"lvl4000","v":4000,"t":"4,000.00"}
    ],
    "macdlevels": [
      {"k":"macd","v":89.99,"t":"89.99"},{"k":"signal","v":62.77,"t":"62.77"},{"k":"hist","v":27.22,"t":"27.22"}
    ]
  },
  "vconcat": [
    {
      "width": 1621,
      "height": 298,
      "resolve": {"scale": {"color": "independent"}},
      "layer": [
        {
          "data": {"name": "candles"},
          "mark": {"type": "rule", "strokeWidth": 1},
          "encoding": {
            "x": {"field": "i", "type": "quantitative", "scale": {"domain": [-13.56, 205.6], "nice": false, "zero": false},
              "axis": {"title": null, "values": [0, 22, 42, 64, 85, 106, 128, 151, 176, 190], "labels": false, "grid": true, "domain": true, "domainColor": "#E0E3EB", "domainWidth": 2}},
            "y": {"field": "l", "type": "quantitative", "scale": {"domain": [3310, 5828], "nice": false, "zero": false},
              "axis": {"title": null, "orient": "right", "values": [3600, 4000, 4400, 4800, 5200, 5600], "labelPadding": 10, "grid": true,
                "labelExpr": "indexof([4000, 4400, 4800], datum.value) >= 0 ? '' : format(datum.value, ',.2f')"}},
            "y2": {"field": "h"},
            "color": {"condition": {"test": "datum.c >= datum.o", "value": "#089981"}, "value": "#F23645"}
          }
        },
        {
          "data": {"name": "candles"},
          "mark": {"type": "bar", "width": 5},
          "encoding": {
            "x": {"field": "i", "type": "quantitative", "scale": {"domain": [-13.56, 205.6], "nice": false, "zero": false}},
            "y": {"field": "o", "type": "quantitative", "scale": {"domain": [3310, 5828], "nice": false, "zero": false}},
            "y2": {"field": "c"},
            "color": {"condition": {"test": "datum.c >= datum.o", "value": "#089981"}, "value": "#F23645"}
          }
        },
        {
          "data": {"name": "ma"},
          "mark": {"type": "line", "strokeWidth": 1.8, "interpolate": "monotone"},
          "encoding": {
            "x": {"field": "i", "type": "quantitative", "scale": {"domain": [-13.56, 205.6], "nice": false, "zero": false}},
            "y": {"field": "v", "type": "quantitative", "scale": {"domain": [3310, 5828], "nice": false, "zero": false}},
            "color": {"field": "ma", "type": "nominal", "scale": {"domain": ["MA50", "MA100", "MA200"], "range": ["#E91E63", "#2196F3", "#000000"]}, "legend": null}
          }
        },
        {
          "data": {"values": [{"v": 4650}, {"v": 4000}]},
          "mark": {"type": "rule", "strokeWidth": 2.5, "strokeDash": [8, 8], "color": "#131722"},
          "encoding": {"y": {"field": "v", "type": "quantitative", "scale": {"domain": [3310, 5828], "nice": false, "zero": false}}}
        },
        {
          "data": {"values": [{"v": 4486.88}]},
          "mark": {"type": "rule", "strokeWidth": 1, "strokeDash": [1, 2], "color": "#F23645"},
          "encoding": {"y": {"field": "v", "type": "quantitative", "scale": {"domain": [3310, 5828], "nice": false, "zero": false}}}
        },
        {"data": {"name": "info"}, "mark": {"type": "text"}, "encoding": {"x": {"datum": -12.0}, "y": {"datum": 5678.6}, "text": {"field": "title"}}},
        {"data": {"name": "info"}, "mark": {"type": "text", "text": "O"}, "encoding": {"x": {"datum": 42.06}, "y": {"datum": 5678.6}}},
        {"data": {"name": "info"}, "mark": {"type": "text", "color": "#F23645"}, "encoding": {"x": {"datum": 43.68}, "y": {"datum": 5678.6}, "text": {"field": "o"}}},
        {"data": {"name": "info"}, "mark": {"type": "text", "text": "H"}, "encoding": {"x": {"datum": 52.67}, "y": {"datum": 5678.6}}},
        {"data": {"name": "info"}, "mark": {"type": "text", "color": "#F23645"}, "encoding": {"x": {"datum": 54.18}, "y": {"datum": 5678.6}, "text": {"field": "h"}}},
        {"data": {"name": "info"}, "mark": {"type": "text", "text": "L"}, "encoding": {"x": {"datum": 63.02}, "y": {"datum": 5678.6}}},
        {"data": {"name": "info"}, "mark": {"type": "text", "color": "#F23645"}, "encoding": {"x": {"datum": 64.18}, "y": {"datum": 5678.6}, "text": {"field": "l"}}},
        {"data": {"name": "info"}, "mark": {"type": "text", "text": "C"}, "encoding": {"x": {"datum": 73.44}, "y": {"datum": 5678.6}}},
        {"data": {"name": "info"}, "mark": {"type": "text", "color": "#F23645"}, "encoding": {"x": {"datum": 74.93}, "y": {"datum": 5678.6}, "text": {"field": "c"}}},
        {"data": {"name": "info"}, "mark": {"type": "text", "color": "#F23645"}, "encoding": {"x": {"datum": 84.4}, "y": {"datum": 5678.6}, "text": {"field": "chg"}}},
        {"data": {"name": "info"}, "mark": {"type": "text", "text": "MA (100, close, 0)", "fontSize": 15}, "encoding": {"x": {"datum": -12.0}, "y": {"datum": 5501.1}}},
        {"data": {"name": "info"}, "mark": {"type": "text", "color": "#2196F3", "fontSize": 15}, "encoding": {"x": {"datum": 5.48}, "y": {"datum": 5501.1}, "text": {"field": "ma100"}}},
        {"data": {"name": "info"}, "mark": {"type": "text", "text": "MA (200, close, 0)", "fontSize": 15}, "encoding": {"x": {"datum": -12.0}, "y": {"datum": 5323.7}}},
        {"data": {"name": "info"}, "mark": {"type": "text", "color": "#131722", "fontSize": 15}, "encoding": {"x": {"datum": 5.48}, "y": {"datum": 5323.7}, "text": {"field": "ma200"}}},
        {"data": {"name": "info"}, "mark": {"type": "text", "text": "MA (50, close, 0)", "fontSize": 15}, "encoding": {"x": {"datum": -12.0}, "y": {"datum": 5149.6}}},
        {"data": {"name": "info"}, "mark": {"type": "text", "color": "#E91E63", "fontSize": 15}, "encoding": {"x": {"datum": 4.40}, "y": {"datum": 5149.6}, "text": {"field": "ma50"}}},
        {
          "data": {"name": "pricelevels"},
          "mark": {"type": "point", "shape": "M-1,-0.2733H1V0.2733H-1Z", "size": 5625, "filled": true, "opacity": 1, "strokeWidth": 0,
            "yOffset": {"expr": "datum.k == 'lvl4650' ? -21.9 : datum.k == 'ma200' ? -17.5 : datum.k == 'close' ? 0.8 : datum.k == 'ma100' ? 10.2 : datum.k == 'ma50' ? 6.1 : 7.3"}},
          "encoding": {
            "x": {"datum": 210.67},
            "y": {"field": "v", "type": "quantitative", "scale": {"domain": [3310, 5828], "nice": false, "zero": false}},
            "color": {"field": "k", "type": "nominal", "scale": {"domain": ["lvl4650", "ma200", "close", "ma100", "ma50", "lvl4000"], "range": ["#131722", "#000000", "#F23645", "#2196F3", "#E91E63", "#131722"]}, "legend": null}
          }
        },
        {
          "data": {"name": "pricelevels"},
          "mark": {"type": "text", "color": "white", "fontSize": 14.5,
            "yOffset": {"expr": "datum.k == 'lvl4650' ? -21.9 : datum.k == 'ma200' ? -17.5 : datum.k == 'close' ? 0.8 : datum.k == 'ma100' ? 10.2 : datum.k == 'ma50' ? 6.1 : 7.3"}},
          "encoding": {
            "x": {"datum": 206.95},
            "y": {"field": "v", "type": "quantitative", "scale": {"domain": [3310, 5828], "nice": false, "zero": false}},
            "text": {"field": "t"}
          }
        }
      ]
    },
    {
      "width": 1621,
      "height": 150,
      "layer": [
        {
          "data": {"values": [{"lo": 30, "hi": 70}]},
          "mark": {"type": "rect", "color": "#7E57C2", "opacity": 0.1},
          "encoding": {
            "y": {"field": "lo", "type": "quantitative", "scale": {"domain": [17.16, 97.46], "nice": false, "zero": false},
              "axis": {"title": null, "orient": "right", "values": [40, 80], "labelPadding": 10, "grid": true, "labelExpr": "format(datum.value, ',.2f')"}},
            "y2": {"field": "hi"}
          }
        },
        {
          "data": {"values": [{"v": 70}, {"v": 50}, {"v": 30}]},
          "mark": {"type": "rule", "strokeWidth": 1, "strokeDash": [5, 4], "color": "#787B86"},
          "encoding": {"y": {"field": "v", "type": "quantitative", "scale": {"domain": [17.16, 97.46], "nice": false, "zero": false}}}
        },
        {
          "data": {"name": "rsi"},
          "mark": {"type": "line", "strokeWidth": 1.3, "color": "#9C50C8"},
          "encoding": {
            "x": {"field": "i", "type": "quantitative", "scale": {"domain": [-13.56, 205.6], "nice": false, "zero": false},
              "axis": {"title": null, "values": [0, 22, 42, 64, 85, 106, 128, 151, 176, 190], "labels": false, "grid": true, "domain": true, "domainColor": "#E0E3EB", "domainWidth": 2}},
            "y": {"field": "v", "type": "quantitative", "scale": {"domain": [17.16, 97.46], "nice": false, "zero": false}}
          }
        },
        {"data": {"name": "info"}, "mark": {"type": "text", "text": "RSI (14)", "fontSize": 14}, "encoding": {"x": {"datum": -12.1}, "y": {"datum": 86.4}}},
        {"data": {"name": "info"}, "mark": {"type": "text", "color": "#9C50C8", "fontSize": 14}, "encoding": {"x": {"datum": -3.83}, "y": {"datum": 86.4}, "text": {"field": "rsi"}}},
        {
          "data": {"values": [{"v": 64.36, "t": "64.36"}]},
          "mark": {"type": "point", "shape": "M-1,-0.38H1V0.38H-1Z", "size": 2916, "filled": true, "opacity": 1, "strokeWidth": 0, "color": "#9C50C8"},
          "encoding": {"x": {"datum": 209.24}, "y": {"field": "v", "type": "quantitative", "scale": {"domain": [17.16, 97.46], "nice": false, "zero": false}}}
        },
        {
          "data": {"values": [{"v": 64.36, "t": "64.36"}]},
          "mark": {"type": "text", "color": "white", "fontSize": 14.5},
          "encoding": {"x": {"datum": 206.95}, "y": {"field": "v", "type": "quantitative", "scale": {"domain": [17.16, 97.46], "nice": false, "zero": false}}, "text": {"field": "t"}}
        }
      ]
    },
    {
      "width": 1621,
      "height": 151,
      "resolve": {"scale": {"color": "independent"}},
      "layer": [
        {
          "data": {"name": "hist"},
          "mark": {"type": "bar", "width": 6},
          "encoding": {
            "x": {"field": "i", "type": "quantitative", "scale": {"domain": [-13.56, 205.6], "nice": false, "zero": false},
              "axis": {"title": null, "values": [0, 22, 42, 64, 85, 106, 128, 151, 176, 190], "labels": false, "grid": true, "domain": true, "domainColor": "#E0E3EB", "domainWidth": 2}},
            "y": {"field": "h", "type": "quantitative", "scale": {"domain": [-201.9, 287.5], "nice": false, "zero": false},
              "axis": {"title": null, "orient": "right", "values": [0, 200], "labelPadding": 10, "grid": true, "labelExpr": "format(datum.value, ',.2f')"}},
            "y2": {"datum": 0},
            "color": {"field": "s", "type": "nominal", "scale": {"domain": ["pu", "pd", "nd", "nu"], "range": ["#26A69A", "#B2DFDB", "#FF5252", "#FFCDD2"]}, "legend": null}
          }
        },
        {
          "data": {"name": "macdlines"},
          "mark": {"type": "line", "strokeWidth": 1.5},
          "encoding": {
            "x": {"field": "i", "type": "quantitative", "scale": {"domain": [-13.56, 205.6], "nice": false, "zero": false}},
            "y": {"field": "v", "type": "quantitative", "scale": {"domain": [-201.9, 287.5], "nice": false, "zero": false}},
            "color": {"field": "s", "type": "nominal", "scale": {"domain": ["macd", "signal"], "range": ["#2196F3", "#FF6D00"]}, "legend": null}
          }
        },
        {"data": {"name": "info"}, "mark": {"type": "text", "text": "MACD (12, 26, close, 9)", "fontSize": 14}, "encoding": {"x": {"datum": -11.98}, "y": {"datum": 219.4}}},
        {"data": {"name": "info"}, "mark": {"type": "text", "color": "#B2DFDB", "fontSize": 14}, "encoding": {"x": {"datum": 10.33}, "y": {"datum": 219.4}, "text": {"field": "hist"}}},
        {"data": {"name": "info"}, "mark": {"type": "text", "color": "#2196F3", "fontSize": 14}, "encoding": {"x": {"datum": 16.55}, "y": {"datum": 219.4}, "text": {"field": "macd"}}},
        {"data": {"name": "info"}, "mark": {"type": "text", "color": "#FF6D00", "fontSize": 14}, "encoding": {"x": {"datum": 22.85}, "y": {"datum": 219.4}, "text": {"field": "signal"}}},
        {
          "data": {"name": "macdlevels"},
          "mark": {"type": "point", "shape": "M-1,-0.38H1V0.38H-1Z", "size": 2916, "filled": true, "opacity": 1, "strokeWidth": 0,
            "yOffset": {"expr": "datum.k == 'macd' ? -22.7 : datum.k == 'signal' ? -9.3 : 1"}},
          "encoding": {
            "x": {"datum": 209.24},
            "y": {"field": "v", "type": "quantitative", "scale": {"domain": [-201.9, 287.5], "nice": false, "zero": false}},
            "color": {"field": "k", "type": "nominal", "scale": {"domain": ["macd", "signal", "hist"], "range": ["#2196F3", "#FF6D00", "#B2DFDB"]}, "legend": null}
          }
        },
        {
          "data": {"name": "macdlevels"},
          "mark": {"type": "text", "fontSize": 14.5,
            "yOffset": {"expr": "datum.k == 'macd' ? -22.7 : datum.k == 'signal' ? -9.3 : 1"}},
          "encoding": {
            "x": {"datum": 206.95},
            "y": {"field": "v", "type": "quantitative", "scale": {"domain": [-201.9, 287.5], "nice": false, "zero": false}},
            "text": {"field": "t"},
            "color": {"field": "k", "type": "nominal", "scale": {"domain": ["macd", "signal", "hist"], "range": ["#FFFFFF", "#FFFFFF", "#131722"]}, "legend": null}
          }
        }
      ]
    },
    {
      "width": 1621,
      "height": 150,
      "layer": [
        {
          "data": {"name": "adx"},
          "mark": {"type": "line", "strokeWidth": 1.3, "color": "#FF5252"},
          "encoding": {
            "x": {"field": "i", "type": "quantitative", "scale": {"domain": [-13.56, 205.6], "nice": false, "zero": false},
              "axis": {"title": null, "values": [0, 22, 42, 64, 85, 106, 128, 151, 176, 190], "grid": true, "domain": false, "labelPadding": 10,
                "labelExpr": "['2026', 'Feb', 'Mar', 'Apr', 'May', 'Jun', 'Jul', 'Aug', 'Sep', '15'][indexof([0, 22, 42, 64, 85, 106, 128, 151, 176, 190], datum.value)]",
                "labelFontWeight": {"condition": {"test": "datum.value == 0", "value": "bold"}, "value": "normal"}}},
            "y": {"field": "v", "type": "quantitative", "scale": {"domain": [8.14, 55.31], "nice": false, "zero": false},
              "axis": {"title": null, "orient": "right", "values": [20, 40], "labelPadding": 10, "grid": true, "labelExpr": "format(datum.value, ',.2f')"}}
          }
        },
        {"data": {"name": "info"}, "mark": {"type": "text", "text": "ADX (14, 14)", "fontSize": 14}, "encoding": {"x": {"datum": -12.1}, "y": {"datum": 48.6}}},
        {"data": {"name": "info"}, "mark": {"type": "text", "color": "#FF5252", "fontSize": 14}, "encoding": {"x": {"datum": 0.37}, "y": {"datum": 48.6}, "text": {"field": "adx"}}},
        {
          "data": {"values": [{"v": 31.12, "t": "31.12"}]},
          "mark": {"type": "point", "shape": "M-1,-0.38H1V0.38H-1Z", "size": 2916, "filled": true, "opacity": 1, "strokeWidth": 0, "color": "#FF5252"},
          "encoding": {"x": {"datum": 209.24}, "y": {"field": "v", "type": "quantitative", "scale": {"domain": [8.14, 55.31], "nice": false, "zero": false}}}
        },
        {
          "data": {"values": [{"v": 31.12, "t": "31.12"}]},
          "mark": {"type": "text", "color": "white", "fontSize": 14.5},
          "encoding": {"x": {"datum": 206.95}, "y": {"field": "v", "type": "quantitative", "scale": {"domain": [8.14, 55.31], "nice": false, "zero": false}}, "text": {"field": "t"}}
        }
      ]
    }
  ]
}
